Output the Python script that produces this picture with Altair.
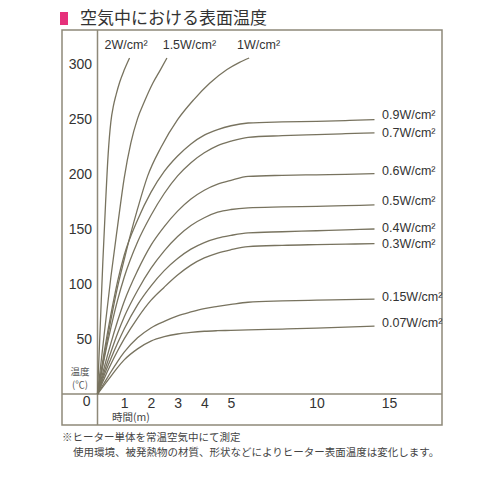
import altair as alt
import pandas as pd

# ---------------- data ----------------
TIME = [0, 0.25, 0.5, 0.75, 1, 1.5, 2, 2.5, 3, 3.5, 4, 4.5, 5, 6, 8, 10, 12, 14]

temp_090 = [0, 38, 72, 102, 126, 158, 183, 202, 216, 227, 235, 240, 243.5, 246, 247, 247.5, 248.2, 249]
temp_070 = [0, 32, 60, 85, 106, 138, 162, 182, 198, 210, 219, 225.5, 229.5, 233, 234.5, 235.5, 236.3, 237]
temp_060 = [0, 24, 46, 66, 84, 112, 135, 152, 166, 177, 185, 190.5, 194, 197.5, 198.5, 199, 199.4, 200]
temp_050 = [0, 20, 38, 55, 70, 94, 114, 130, 143, 153, 160, 165, 167.5, 169, 169.8, 170.4, 171, 171.6]
temp_040 = [0, 17, 32, 46, 59, 81, 98, 112, 123, 131.5, 137.5, 141.5, 144, 146.3, 147.3, 148.2, 149, 149.8]
temp_030 = [0, 14, 27, 39, 50, 69, 85, 97, 108, 117, 123.5, 128, 131, 133.8, 135, 135.6, 136, 136.5]
temp_015 = [0, 10, 20, 29.5, 38, 51, 60, 66, 71, 74.5, 77.5, 79.5, 81.3, 83.3, 84.5, 85.2, 85.7, 86.2]
temp_007 = [0, 8, 16, 24, 31, 41, 48, 52, 54.5, 56, 57, 57.5, 57.8, 58.3, 59, 59.8, 60.7, 61.7]

time_2w = [0, 0.1, 0.2, 0.3, 0.4, 0.5, 0.6, 0.7, 0.83, 1.0, 1.2]
temp_2w = [0, 60, 120, 172, 218, 247, 262, 272, 283, 294, 305]
time_15w = [0, 0.25, 0.5, 0.75, 1.0, 1.25, 1.5, 1.75, 2.07, 2.35, 2.6]
temp_15w = [0, 54, 106, 152, 196, 228, 250, 265, 282, 294, 305]
time_1w = [0, 0.25, 0.5, 0.75, 1, 1.25, 1.5, 1.88, 2.38, 3, 3.6, 4.2, 4.85, 5.5, 6.06]
temp_1w = [0, 34, 67, 97, 122, 146, 168, 198, 224, 249, 267, 282, 294.5, 301, 305]

RIGHT_NAMES = ["0.9W/cm²", "0.7W/cm²", "0.6W/cm²", "0.5W/cm²",
               "0.4W/cm²", "0.3W/cm²", "0.15W/cm²", "0.07W/cm²"]
RIGHT_TEMPS = [temp_090, temp_070, temp_060, temp_050,
               temp_040, temp_030, temp_015, temp_007]
TOP_NAMES = ["2W/cm²", "1.5W/cm²", "1W/cm²"]
TOP_TIMES = [time_2w, time_15w, time_1w]
TOP_TEMPS = [temp_2w, temp_15w, temp_1w]

Y_TICKS = [50, 100, 150, 200, 250, 300]
X_TICKS = [1, 2, 3, 4, 5, 10, 15]

TITLE = "空気中における表面温度"
NOTE1 = "※ヒーター単体を常温空気中にて測定"
NOTE2 = "使用環境、被発熱物の材質、形状などによりヒーター表面温度は変化します。"

# ---------------- styles ----------------
TOP_DX = [-3.5, 22.5, 9.5]
RIGHT_DY = [-4.5, 0, -3, -4, -1, 0.5, -2, -3]
FRAME = "#8e8979"
CURVE = "#78735f"
TEXT = "#333333"
LATIN = "Liberation Sans"
CJK = "Noto Sans CJK JP"
W, H = 380, 395

rows = []
for name, temps in zip(RIGHT_NAMES, RIGHT_TEMPS):
    for t, v in zip(TIME, temps):
        rows.append({"series": name, "t": t, "temp": v})
for name, times, temps in zip(TOP_NAMES, TOP_TIMES, TOP_TEMPS):
    for t, v in zip(times, temps):
        rows.append({"series": name, "t": t, "temp": v})
df = pd.DataFrame(rows)

x_scale = alt.Scale(domain=[0, 5, 10, 15], range=[35.5, 169, 254.5, 327], nice=False, zero=False)
y_scale = alt.Scale(domain=[-28.1, 330.4], nice=False, zero=False)

x_axis = alt.Axis(values=X_TICKS, title=None, domain=False, ticks=False, tickSize=0, grid=False,
                  offset=-31, labelPadding=2, labelFontSize=14, labelFont=LATIN,
                  labelColor=TEXT, labelFlush=False)
y_axis = alt.Axis(values=Y_TICKS, title=None, domain=False, ticks=False, tickSize=0, grid=False,
                  offset=-35.5, labelPadding=6, labelFontSize=14, labelFont=LATIN,
                  labelColor=TEXT, labelOffset=1, labelFlush=False)

x_enc = alt.X("t:Q", scale=x_scale, axis=x_axis)
y_enc = alt.Y("temp:Q", scale=y_scale, axis=y_axis)

one = pd.DataFrame({"k": [0]})

vline = alt.Chart(pd.DataFrame({"t": [0]})).mark_rule(color=FRAME, strokeWidth=1.5).encode(
    x=x_enc, y=alt.value(0), y2=alt.value(H))
hline = alt.Chart(pd.DataFrame({"temp": [0]})).mark_rule(color=FRAME, strokeWidth=1.5).encode(
    y=y_enc, x=alt.value(0), x2=alt.value(W))

lines = alt.Chart(df).mark_line(color=CURVE, strokeWidth=1.3, interpolate="monotone").encode(
    x=x_enc, y=y_enc, detail="series:N")

right_layers = []
for name, temps, dy in zip(RIGHT_NAMES, RIGHT_TEMPS, RIGHT_DY):
    d = pd.DataFrame({"series": [name], "t": [TIME[-1]], "temp": [temps[-1]]})
    right_layers.append(alt.Chart(d).mark_text(
        align="left", baseline="middle", dx=7.5, dy=dy, fontSize=12.5, font=LATIN, color=TEXT
    ).encode(x=x_enc, y=y_enc, text="series:N"))

top_layers = []
for name, times, temps, dx in zip(TOP_NAMES, TOP_TIMES, TOP_TEMPS, TOP_DX):
    d = pd.DataFrame({"series": [name], "t": [times[-1]], "temp": [temps[-1]]})
    top_layers.append(alt.Chart(d).mark_text(
        align="center", baseline="middle", dx=dx, dy=-13, fontSize=12.5, font=LATIN, color=TEXT
    ).encode(x=x_enc, y=y_enc, text="series:N"))

def note(text, x, y, size, font, align="left", color=TEXT, baseline="middle"):
    return alt.Chart(one).mark_text(align=align, baseline=baseline, fontSize=size,
                                    font=font, color=color).encode(
        x=alt.value(x), y=alt.value(y), text=alt.value(text))

pink = alt.Chart(one).mark_rect(color="#e6317b").encode(
    x=alt.value(-2), x2=alt.value(6), y=alt.value(-18), y2=alt.value(-5))

annotations = [
    pink,
    note(TITLE, 18, -6.5, 17, CJK, baseline="alphabetic"),
    note("温度", 18, 342, 9.5, CJK, align="center", color="#555555"),
    note("(℃)", 18, 355, 9.5, CJK, align="center", color="#555555"),
    note("0", 24.7, 372, 14, LATIN, align="center"),
    note("時間(m)", 50, 388, 10.5, CJK, color="#444444"),
    note(NOTE1, 0, 408, 10.5, CJK, color="#444444"),
    note(NOTE2, 11, 423, 10.5, CJK, color="#444444"),
]

chart = alt.layer(vline, hline, lines, *right_layers, *top_layers, *annotations).properties(
    width=W, height=H,
    padding={"left": 54, "top": 22, "right": 10, "bottom": 50},
    autosize=alt.AutoSizeParams(type="none"),
    background="white",
).configure_view(stroke=FRAME, strokeWidth=1.5)

chart.save("out.html", embed_options={"renderer": "svg", "actions": False})
